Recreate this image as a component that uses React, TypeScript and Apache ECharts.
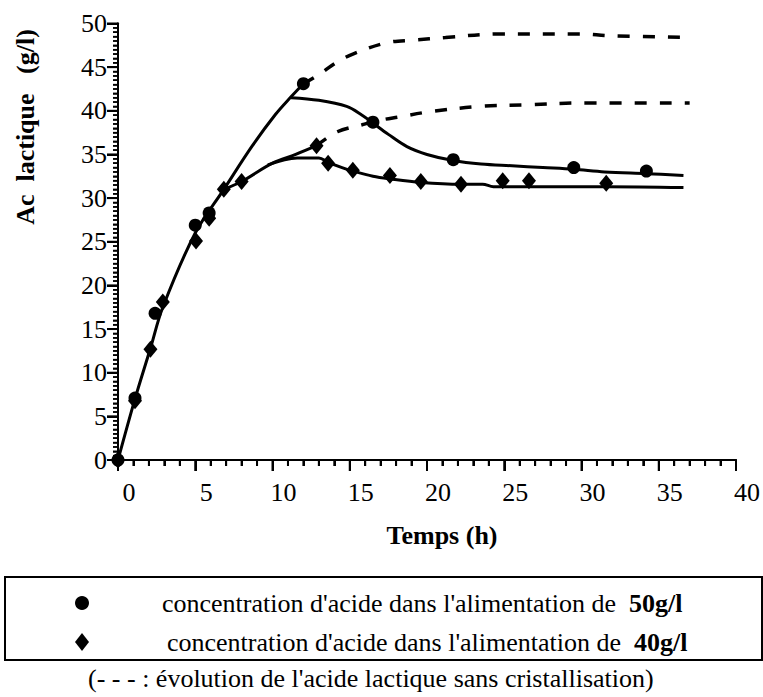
import React, { useEffect, useRef } from "react";
import * as echarts from "echarts";

// Measured points (h, g/l)
const pts50T = [0, 1.1, 2.4, 5.0, 5.9, 12.0, 16.5, 21.7, 29.5, 34.2];
const pts50V = [0, 7.1, 16.8, 26.9, 28.3, 43.1, 38.7, 34.4, 33.5, 33.1];
const pts40T = [0, 1.1, 2.1, 2.9, 5.05, 5.9, 6.85, 8.0, 12.85, 13.6, 15.2, 17.6, 19.6, 22.2, 24.9, 26.6, 31.6];
const pts40V = [0, 6.8, 12.7, 18.1, 25.1, 27.7, 31.0, 31.9, 36.0, 34.0, 33.2, 32.6, 31.9, 31.6, 32.0, 32.0, 31.7];

// Fitted curves (solid)
const rise50T = [0, 1.1, 2.1, 2.9, 5.0, 6.85, 8.7, 10.2, 11.2, 12.0];
const rise50V = [0, 7.0, 12.8, 17.5, 26.0, 31.0, 36.0, 39.6, 41.6, 43.1];
const branch50T = [11.2, 13.0, 14.8, 15.8, 16.5, 17.5, 18.7, 20.0, 21.7, 23.5, 25.5, 27.5, 29.5, 31.5, 34.2, 36.6];
const branch50V = [41.5, 41.2, 40.5, 39.5, 38.6, 37.3, 35.9, 35.0, 34.3, 33.9, 33.7, 33.5, 33.3, 33.0, 32.8, 32.6];
const rise40T = [6.85, 8.0, 10.0, 11.5, 12.85];
const rise40V = [31.0, 31.9, 34.0, 35.0, 36.0];
const branch40T = [9.7, 11.6, 13.0, 13.6, 14.5, 15.2, 16.5, 17.6, 19.6, 22.2, 23.6, 24.3, 26.6, 31.6, 36.6];
const branch40V = [33.8, 34.6, 34.6, 34.1, 33.5, 33.1, 32.5, 32.2, 31.8, 31.6, 31.6, 31.3, 31.3, 31.3, 31.2];

// Without crystallisation (dashed)
const dash50T = [12.0, 13.05, 14.1, 15.2, 17.4, 19.1, 21.2, 24.7, 29.9, 31.8, 37.0];
const dash50V = [43.1, 44.2, 45.5, 46.5, 47.8, 48.1, 48.4, 48.8, 48.8, 48.6, 48.4];
const dash40T = [12.85, 14.2, 15.8, 16.9, 18.2, 20.2, 23.4, 26.6, 29.9, 37.0];
const dash40V = [36.0, 37.6, 38.4, 38.9, 39.3, 39.9, 40.5, 40.7, 40.9, 40.9];

// Axis tick values (major every 5, minor every 1 h / 0.5 g/l)
const xTickVals = Array.from({ length: 41 }, (_, i) => i);
const yTickVals = Array.from({ length: 101 }, (_, i) => i * 0.5);

const xTitle = "Temps (h)";
const yTitle = "Ac  lactique   (g/l)";
const legend50 = ["concentration d'acide dans l'alimentation de  ", "50g/l"];
const legend40 = ["concentration d'acide dans l'alimentation de  ", "40g/l"];
const caption = "(- - - : évolution de l'acide lactique sans cristallisation)";

const zip = (t: number[], v: number[]) => t.map((x, i) => [x, v[i]]);

const FONT = "Liberation Serif";

export default function App() {
  const ref = useRef<HTMLDivElement>(null);
  useEffect(() => {
    document.body.style.margin = "0";
    if (!ref.current) return;
    const chart = echarts.init(ref.current, undefined, { renderer: "svg" });
    const solid = (name: string, t: number[], v: number[]) => ({
      name,
      type: "line",
      data: zip(t, v),
      smooth: 0.35,
      symbol: "none",
      lineStyle: { color: "#000", width: 3 },
      z: 3,
    });
    const dashed = (name: string, t: number[], v: number[]) => ({
      name,
      type: "line",
      data: zip(t, v),
      smooth: 0.35,
      symbol: "none",
      lineStyle: { color: "#000", width: 3.5, type: [12, 13] },
      z: 3,
    });
    const frameAxis = {
      type: "value",
      axisLine: { show: true, lineStyle: { color: "#000", width: 2 } },
      axisTick: { show: false },
      minorTick: { show: false },
      axisLabel: { show: false },
      splitLine: { show: false },
    };
    const textN = { fontFamily: FONT, fontSize: 26, fill: "#000" };
    const textB = { fontFamily: FONT, fontSize: 26, fontWeight: "bold", fill: "#000" };
    chart.setOption({
      animation: false,
      grid: { left: 118, top: 23.5, right: 26, bottom: 237 },
      xAxis: [
        {
          type: "value",
          position: "bottom",
          min: 0,
          max: 40,
          interval: 5,
          axisLine: { show: true, lineStyle: { color: "#000", width: 2 } },
          axisTick: { show: true, length: 11, lineStyle: { color: "#000", width: 2 } },
          minorTick: { show: true, splitNumber: 5, length: 6, lineStyle: { color: "#000", width: 2 } },
          splitLine: { show: false },
          axisLabel: {
            color: "#000",
            fontFamily: FONT,
            fontSize: 26,
            margin: 19,
            padding: [0, 0, 0, 22],
          },
        },
        { ...frameAxis, position: "top", min: 0, max: 40 },
      ],
      yAxis: [
        {
          type: "value",
          position: "left",
          min: 0,
          max: 50,
          interval: 5,
          axisLine: { show: true, lineStyle: { color: "#000", width: 2 } },
          axisTick: { show: true, length: 11, lineStyle: { color: "#000", width: 2 } },
          minorTick: { show: true, splitNumber: 10, length: 5, lineStyle: { color: "#000", width: 1.5 } },
          splitLine: { show: false },
          axisLabel: {
            color: "#000",
            fontFamily: FONT,
            fontSize: 26,
            margin: 11,
            padding: [0, 0, 10, 0],
          },
        },
        { ...frameAxis, position: "right", min: 0, max: 50 },
      ],
      series: [
        {
          name: "xTicks",
          type: "custom",
          clip: false,
          silent: true,
          z: 4,
          data: xTickVals.map((v) => [v, 0]),
          renderItem: (params: any, api: any) => {
            const v = api.value(0);
            const p = api.coord([v, 0]);
            const len = v % 5 === 0 ? 11 : 6;
            return {
              type: "line",
              shape: { x1: p[0], y1: p[1], x2: p[0], y2: p[1] + len },
              style: { stroke: "#000", lineWidth: 2 },
            };
          },
        },
        {
          name: "yTicks",
          type: "custom",
          clip: false,
          silent: true,
          z: 4,
          data: yTickVals.map((v) => [0, v]),
          renderItem: (params: any, api: any) => {
            const v = api.value(1);
            const p = api.coord([0, v]);
            const major = Math.abs(v % 5) < 1e-6;
            const len = major ? 11 : 5;
            return {
              type: "line",
              shape: { x1: p[0] - len, y1: p[1], x2: p[0], y2: p[1] },
              style: { stroke: "#000", lineWidth: major ? 2 : 1.5 },
            };
          },
        },
        solid("rise50", rise50T, rise50V),
        solid("branch50", branch50T, branch50V),
        solid("rise40", rise40T, rise40V),
        solid("branch40", branch40T, branch40V),
        dashed("dash50", dash50T, dash50V),
        dashed("dash40", dash40T, dash40V),
        {
          name: "50g/l",
          type: "scatter",
          data: zip(pts50T, pts50V),
          symbol: "circle",
          symbolSize: 13,
          itemStyle: { color: "#000", opacity: 1 },
          z: 5,
        },
        {
          name: "40g/l",
          type: "scatter",
          data: zip(pts40T, pts40V),
          symbol: "diamond",
          symbolSize: [14, 17],
          itemStyle: { color: "#000", opacity: 1 },
          z: 5,
        },
      ],
      graphic: [
        {
          type: "text",
          x: 25,
          y: 127,
          rotation: Math.PI / 2,
          style: {
            text: yTitle,
            fill: "#000",
            fontFamily: FONT,
            fontSize: 26,
            fontWeight: "bold",
            align: "center",
            verticalAlign: "middle",
          },
        },
        {
          type: "text",
          x: 442,
          y: 535,
          style: {
            text: xTitle,
            fill: "#000",
            fontFamily: FONT,
            fontSize: 26,
            fontWeight: "bold",
            align: "center",
            verticalAlign: "middle",
          },
        },
        {
          type: "rect",
          shape: { x: 5, y: 577, width: 757, height: 83 },
          style: { fill: "none", stroke: "#000", lineWidth: 2 },
        },
        {
          type: "circle",
          shape: { cx: 82, cy: 603, r: 7 },
          style: { fill: "#000" },
        },
        {
          type: "polygon",
          shape: { points: [[82, 633], [89, 642], [82, 651], [75, 642]] },
          style: { fill: "#000" },
        },
        {
          type: "text",
          x: 162,
          y: 603,
          style: {
            text: `{n|${legend50[0]}}{b|${legend50[1]}}`,
            verticalAlign: "middle",
            align: "left",
            rich: { n: textN, b: textB },
          },
        },
        {
          type: "text",
          x: 167,
          y: 642,
          style: {
            text: `{n|${legend40[0]}}{b|${legend40[1]}}`,
            verticalAlign: "middle",
            align: "left",
            rich: { n: textN, b: textB },
          },
        },
        {
          type: "text",
          x: 88,
          y: 678,
          style: {
            text: caption,
            fill: "#000",
            fontFamily: FONT,
            fontSize: 26,
            align: "left",
            verticalAlign: "middle",
          },
        },
      ],
    });
    return () => chart.dispose();
  }, []);
  return <div ref={ref} style={{ width: 763, height: 697 }} />;
}
